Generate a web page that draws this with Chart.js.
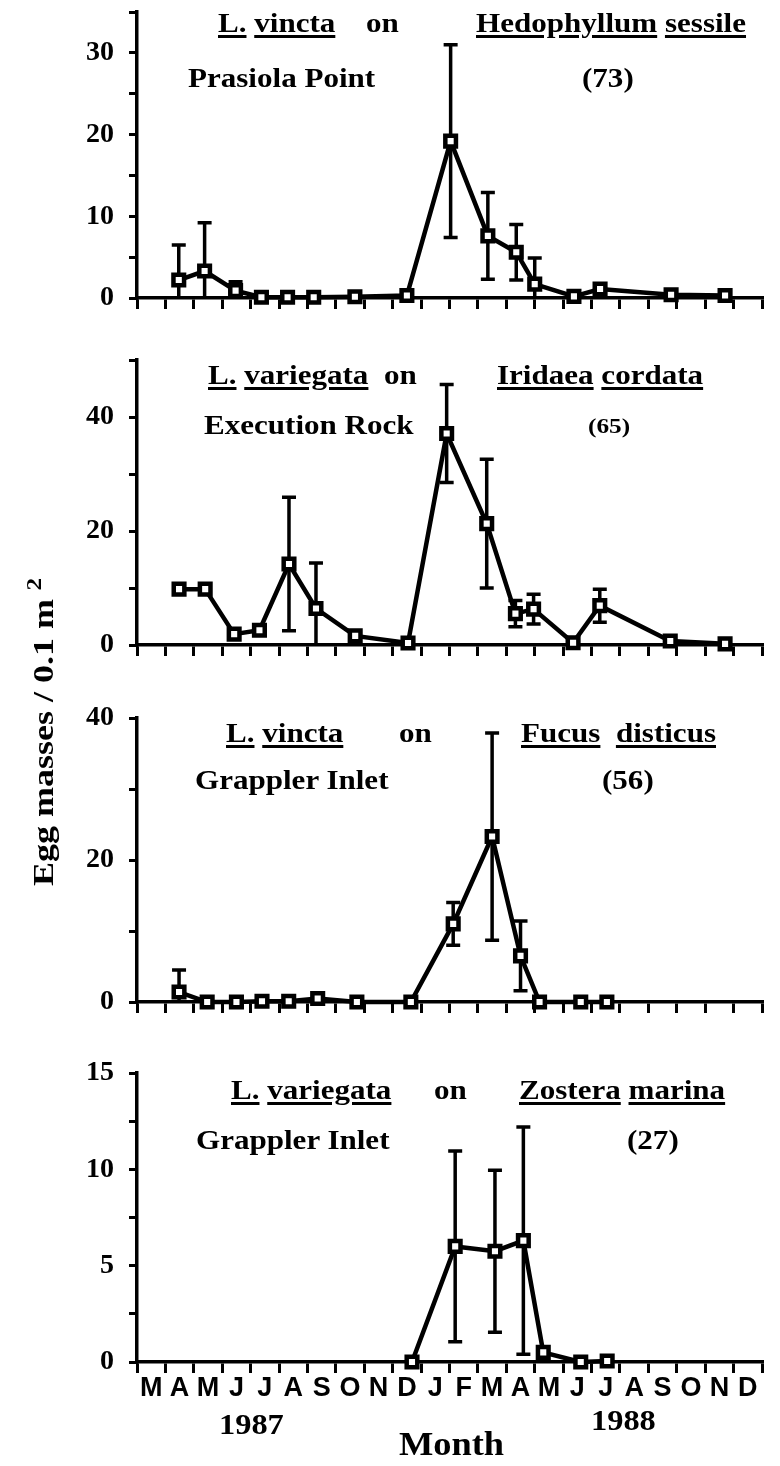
<!DOCTYPE html>
<html>
<head>
<meta charset="utf-8">
<script src="https://cdn.jsdelivr.net/npm/chart.js@4.4.1/dist/chart.umd.min.js"></script>
<style>
  html, body { margin: 0; padding: 0; background: #fff; }
  #page { position: relative; width: 780px; height: 1466px; overflow: hidden; background: #fff; }
  #page canvas { position: absolute; left: 0; top: 0; }
  .t { position: absolute; font-family: 'Liberation Serif', 'Times New Roman', serif; font-weight: bold; line-height: 1;
       white-space: nowrap; color: #000; transform-origin: 0 0; }
  .t u { text-decoration-thickness: 2.5px; text-underline-offset: 3px; }
  #ytitle { position: absolute; width: 440px; height: 40px; line-height: 40px; text-align: center;
            left: -178px; top: 712px; transform: rotate(-90deg) scaleX(1.2);
            font: bold 30px 'Liberation Serif', 'Times New Roman', serif; white-space: nowrap; }
  #ytitle sup { font-size: 0.7em; vertical-align: 0.55em; margin-left: 7px; }
</style>
</head>
<body>
<div id="page">
  <canvas id="c1" width="780" height="1466"></canvas>
  <canvas id="c2" width="780" height="1466"></canvas>
  <canvas id="c3" width="780" height="1466"></canvas>
  <canvas id="c4" width="780" height="1466"></canvas>
  <div id="ytitle">Egg masses / 0.1 m<sup>2</sup></div>
</div>
<script>
// month tick labels, Mar 1987 .. Dec 1988
const monthLetters = ['M','A','M','J','J','A','S','O','N','D','J','F','M','A','M','J','J','A','S','O','N','D'];

// sampling dates in months after 1 March 1987, mean egg masses, and SD
const prasiolaDates = [1.47, 2.38, 3.47, 4.38, 5.3, 6.22, 7.67, 9.5, 11.04, 12.35, 13.35, 14.0, 15.38, 16.3, 18.8, 20.7];
const prasiolaMeans = [2.2, 3.3, 0.9, 0.1, 0.1, 0.1, 0.15, 0.3, 19.2, 7.6, 5.6, 1.7, 0.2, 1.1, 0.4, 0.3];
const prasiolaSd    = [4.3, 5.9, 1.1, 0, 0, 0, 0, 0, 11.8, 5.3, 3.4, 3.2, 0, 0, 0, 0];

const executionDates = [1.48, 2.4, 3.42, 4.31, 5.35, 6.3, 7.68, 9.54, 10.9, 12.31, 13.32, 13.96, 15.35, 16.29, 18.77, 20.7];
const executionMeans = [9.8, 9.8, 1.9, 2.6, 14.2, 6.4, 1.6, 0.35, 37.1, 21.3, 5.5, 6.3, 0.4, 6.9, 0.7, 0.2];
const executionSd    = [0, 0, 0, 0, 11.7, 8.0, 0, 0, 8.6, 11.3, 2.3, 2.6, 0, 2.9, 0, 0];

const fucusDates = [1.48, 2.47, 3.5, 4.4, 5.34, 6.36, 7.74, 9.64, 11.13, 12.5, 13.5, 14.17, 15.62, 16.54];
const fucusMeans = [1.4, 0, 0, 0.1, 0.1, 0.5, 0, 0, 11.0, 23.3, 6.5, 0, 0, 0];
const fucusSd    = [3.1, 0, 0, 0, 0, 0, 0, 0, 3.0, 14.6, 4.9, 0, 0, 0];

const zosteraDates = [9.68, 11.2, 12.6, 13.6, 14.3, 15.62, 16.55];
const zosteraMeans = [0, 6.0, 5.75, 6.3, 0.5, 0, 0.05];
const zosteraSd    = [0, 4.95, 4.2, 5.9, 0, 0, 0];

// y axis ranges per panel
const yMax       = [35, 50, 40, 15];
const yTickStep  = [5, 10, 10, 2.5];
const yLabelStep = [10, 20, 20, 5];

const AREA_LEFT = 137, AREA_RIGHT = 762, PAGE_H = 1466;
const panelTop = [11, 360, 718, 1073];
const panelBottom = [298, 645, 1002, 1362];

const errorBars = {
  id: 'errorBars',
  beforeDatasetsDraw(chart) {
    const { ctx, scales: { x, y } } = chart;
    const cap = 7;
    ctx.save();
    ctx.strokeStyle = '#000';
    ctx.lineWidth = 3.5;
    chart.data.datasets.forEach(ds => {
      ds.data.forEach((pt, i) => {
        const s = ds.sd[i];
        if (!s) return;
        const px = x.getPixelForValue(pt.x);
        const yHi = y.getPixelForValue(pt.y + s);
        const yLo = y.getPixelForValue(Math.max(pt.y - s, 0));
        ctx.beginPath();
        ctx.moveTo(px, yHi);
        ctx.lineTo(px, yLo);
        ctx.moveTo(px - cap, yHi);
        ctx.lineTo(px + cap, yHi);
        if (pt.y - s > 0) {
          ctx.moveTo(px - cap, yLo);
          ctx.lineTo(px + cap, yLo);
        }
        ctx.stroke();
      });
    });
    ctx.restore();
  }
};

function makePanel(i, dates, means, sd) {
  const last = i === 3;
  const xh = last ? 40 : 12;
  return new Chart(document.getElementById('c' + (i + 1)), {
    type: 'line',
    data: {
      datasets: [{
        data: dates.map((d, k) => ({ x: d, y: means[k] })),
        sd: sd,
        borderColor: '#000',
        borderWidth: 4.5,
        pointStyle: 'rect',
        pointRadius: 7.5,
        pointBorderWidth: 4.5,
        pointBackgroundColor: '#fff',
        pointBorderColor: '#000',
        tension: 0,
        clip: false
      }]
    },
    options: {
      responsive: false,
      animation: false,
      devicePixelRatio: 1,
      layout: { padding: { left: 0, right: 780 - AREA_RIGHT, top: panelTop[i], bottom: PAGE_H - panelBottom[i] - xh } },
      plugins: { legend: { display: false }, tooltip: { enabled: false } },
      scales: {
        x: {
          type: 'linear', min: 0, max: 22,
          afterFit: s => { s.height = xh; s.paddingLeft = 0; s.paddingRight = 0; },
          ticks: {
            stepSize: 1, autoSkip: false, maxRotation: 0, display: last,
            labelOffset: (AREA_RIGHT - AREA_LEFT) / 22 / 2, padding: -1,
            callback: v => monthLetters[v] || '',
            font: { family: "'Liberation Sans Narrow', 'Liberation Sans', sans-serif", size: 27, weight: 'bold' },
            color: '#000'
          },
          grid: { drawOnChartArea: false, drawTicks: true, tickLength: 11, lineWidth: 3, color: '#000' },
          border: { display: true, width: 3.5, color: '#000' }
        },
        y: {
          min: 0, max: yMax[i],
          afterFit: s => { s.width = AREA_LEFT; s.paddingTop = 0; s.paddingBottom = 0; },
          ticks: {
            stepSize: yTickStep[i], autoSkip: false, padding: 15,
            callback: v => (v % yLabelStep[i] === 0 ? String(v) : ''),
            font: { family: "'Liberation Serif', 'Times New Roman', serif", size: 28, weight: 'bold' },
            color: '#000'
          },
          grid: { drawOnChartArea: false, tickLength: 8, lineWidth: 3, color: '#000' },
          border: { display: true, width: 3.5, color: '#000' }
        }
      }
    },
    plugins: [errorBars]
  });
}

makePanel(0, prasiolaDates, prasiolaMeans, prasiolaSd);
makePanel(1, executionDates, executionMeans, executionSd);
makePanel(2, fucusDates, fucusMeans, fucusSd);
makePanel(3, zosteraDates, zosteraMeans, zosteraSd);

// panel headings and bottom captions: [html, left, baseline, size, horizontal stretch]
const labels = [
  ['<u>L.</u> <u>vincta</u>', 218, 33, 27, 1.15],
  ['on', 366, 33, 27, 1.15],
  ['<u>Hedophyllum</u> <u>sessile</u>', 476, 33, 27, 1.15],
  ['Prasiola Point', 188, 88, 27, 1.15],
  ['(73)', 582, 88, 27, 1.15],
  ['<u>L.</u> <u>variegata</u>', 208, 385, 27, 1.15],
  ['on', 384, 385, 27, 1.15],
  ['<u>Iridaea</u> <u>cordata</u>', 497, 385, 27, 1.15],
  ['Execution Rock', 204, 435, 27, 1.15],
  ['(65)', 588, 433, 22, 1.15],
  ['<u>L.</u> <u>vincta</u>', 226, 743, 27, 1.15],
  ['on', 399, 743, 27, 1.15],
  ['<u>Fucus</u>&nbsp; <u>disticus</u>', 521, 743, 27, 1.15],
  ['Grappler Inlet', 195, 790, 27, 1.15],
  ['(56)', 602, 790, 27, 1.15],
  ['<u>L.</u> <u>variegata</u>', 231, 1100, 27, 1.15],
  ['on', 434, 1100, 27, 1.15],
  ['<u>Zostera</u> <u>marina</u>', 519, 1100, 27, 1.15],
  ['Grappler Inlet', 196, 1150, 27, 1.15],
  ['(27)', 627, 1150, 27, 1.15],
  ['1987', 219, 1434, 30, 1.08],
  ['1988', 591, 1430, 30, 1.08],
  ['Month', 399, 1455, 34, 1.07]
];
const page = document.getElementById('page');
labels.forEach(([h, x, base, size, sx]) => {
  const d = document.createElement('div');
  d.className = 't';
  d.innerHTML = h;
  d.style.fontSize = size + 'px';
  d.style.left = x + 'px';
  d.style.top = (base - 0.837 * size) + 'px';
  d.style.transform = 'scaleX(' + sx + ')';
  page.appendChild(d);
});
</script>
</body>
</html>
